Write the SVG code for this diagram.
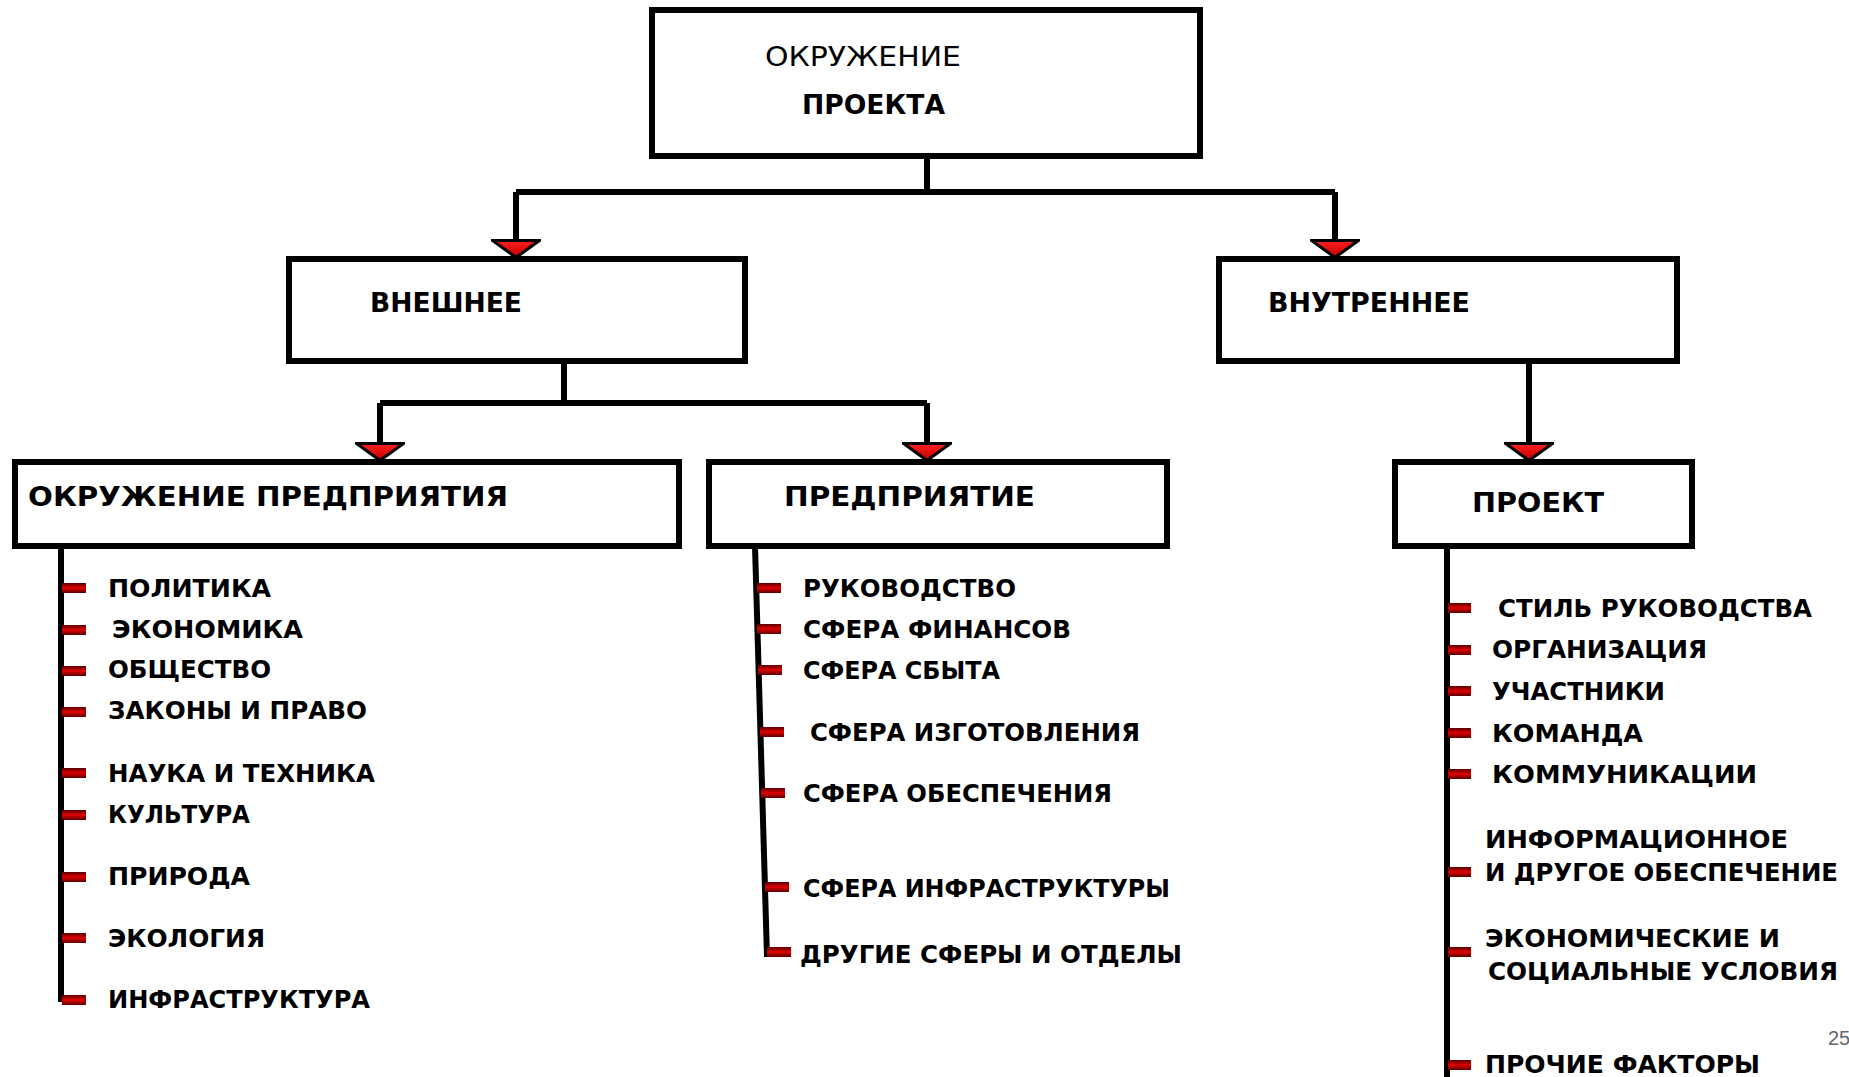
<svg xmlns="http://www.w3.org/2000/svg" width="1849" height="1077" viewBox="0 0 1849 1077">
<defs>
<linearGradient id="mk" x1="0" y1="0" x2="0" y2="1">
<stop offset="0" stop-color="#5a0000"/>
<stop offset="0.5" stop-color="#e00000"/>
<stop offset="1" stop-color="#5a0000"/>
</linearGradient>
<linearGradient id="tri" x1="0" y1="0" x2="1" y2="0">
<stop offset="0" stop-color="#ff2020"/>
<stop offset="1" stop-color="#c00000"/>
</linearGradient>
<marker id="ah" viewBox="0 0 20 50" refX="20" refY="25" markerWidth="20" markerHeight="50" markerUnits="userSpaceOnUse" orient="auto">
<path d="M1.5,1.5 L18.5,25 L1.5,48.5 Z" fill="url(#tri)" stroke="#000" stroke-width="3" stroke-linejoin="miter"/>
</marker>
</defs>
<style>
.box{fill:#fff;stroke:#000;stroke-width:6}
.ln{fill:none;stroke:#000;stroke-width:6}
.t{font-family:"DejaVu Sans","Liberation Sans",sans-serif;font-weight:bold;font-size:24px;fill:#000}
.h{font-family:"DejaVu Sans","Liberation Sans",sans-serif;font-weight:bold;font-size:26px;fill:#000}
.r{font-family:"DejaVu Sans","Liberation Sans",sans-serif;font-weight:normal;font-size:26px;fill:#000}
.m{fill:url(#mk)}
</style>
<rect width="1849" height="1077" fill="#fff"/>

<g id="connectors">
<path class="ln" d="M927,156 V192"/>
<path class="ln" d="M516,192 H1335"/>
<path class="ln" d="M516,192 V259" marker-end="url(#ah)"/>
<path class="ln" d="M1335,192 V259" marker-end="url(#ah)"/>
<path class="ln" d="M564,361 V403"/>
<path class="ln" d="M380,403 H927"/>
<path class="ln" d="M380,403 V462" marker-end="url(#ah)"/>
<path class="ln" d="M927,403 V462" marker-end="url(#ah)"/>
<path class="ln" d="M1529,361 V462" marker-end="url(#ah)"/>
<path class="ln" d="M61,546 V1002"/>
<path class="ln" d="M755,546 L767,957"/>
<path class="ln" d="M1447,546 V1077"/>
</g>

<g id="node-root">
<rect class="box" x="652" y="10" width="548" height="146"/>
<text class="r" x="765" y="66" textLength="196" lengthAdjust="spacingAndGlyphs">ОКРУЖЕНИЕ</text>
<text class="h" x="802" y="114" textLength="143" lengthAdjust="spacingAndGlyphs">ПРОЕКТА</text>
</g>

<g id="node-external">
<rect class="box" x="289" y="259" width="456" height="102"/>
<text class="h" x="370" y="312" textLength="152" lengthAdjust="spacingAndGlyphs">ВНЕШНЕЕ</text>
</g>

<g id="node-internal">
<rect class="box" x="1219" y="259" width="458" height="102"/>
<text class="h" x="1268" y="312" textLength="202" lengthAdjust="spacingAndGlyphs">ВНУТРЕННЕЕ</text>
</g>

<g id="node-env-enterprise">
<rect class="box" x="15" y="462" width="664" height="84"/>
<text class="h" x="28" y="506" textLength="480" lengthAdjust="spacingAndGlyphs">ОКРУЖЕНИЕ ПРЕДПРИЯТИЯ</text>
</g>

<g id="node-enterprise">
<rect class="box" x="709" y="462" width="458" height="84"/>
<text class="h" x="784" y="506" textLength="251" lengthAdjust="spacingAndGlyphs">ПРЕДПРИЯТИЕ</text>
</g>

<g id="node-project">
<rect class="box" x="1395" y="462" width="297" height="84"/>
<text class="h" x="1472" y="512" textLength="132" lengthAdjust="spacingAndGlyphs">ПРОЕКТ</text>
</g>

<g id="list-env-enterprise">
<rect class="m" x="62" y="583" width="24" height="10"/>
<rect class="m" x="62" y="625" width="24" height="10"/>
<rect class="m" x="62" y="666" width="24" height="10"/>
<rect class="m" x="62" y="707" width="24" height="10"/>
<rect class="m" x="62" y="768" width="24" height="10"/>
<rect class="m" x="62" y="810" width="24" height="10"/>
<rect class="m" x="62" y="872" width="24" height="10"/>
<rect class="m" x="62" y="933" width="24" height="10"/>
<rect class="m" x="62" y="995" width="24" height="10"/>
<text class="t" x="108" y="597" textLength="163" lengthAdjust="spacingAndGlyphs">ПОЛИТИКА</text>
<text class="t" x="112" y="638" textLength="191" lengthAdjust="spacingAndGlyphs">ЭКОНОМИКА</text>
<text class="t" x="108" y="678" textLength="163" lengthAdjust="spacingAndGlyphs">ОБЩЕСТВО</text>
<text class="t" x="108" y="719" textLength="259" lengthAdjust="spacingAndGlyphs">ЗАКОНЫ И ПРАВО</text>
<text class="t" x="108" y="782" textLength="267" lengthAdjust="spacingAndGlyphs">НАУКА И ТЕХНИКА</text>
<text class="t" x="108" y="823" textLength="142" lengthAdjust="spacingAndGlyphs">КУЛЬТУРА</text>
<text class="t" x="108" y="885" textLength="142" lengthAdjust="spacingAndGlyphs">ПРИРОДА</text>
<text class="t" x="108" y="947" textLength="157" lengthAdjust="spacingAndGlyphs">ЭКОЛОГИЯ</text>
<text class="t" x="108" y="1008" textLength="262" lengthAdjust="spacingAndGlyphs">ИНФРАСТРУКТУРА</text>
</g>

<g id="list-enterprise">
<rect class="m" x="757" y="583" width="24" height="10"/>
<rect class="m" x="757" y="624" width="24" height="10"/>
<rect class="m" x="758" y="665" width="24" height="10"/>
<rect class="m" x="760" y="727" width="24" height="10"/>
<rect class="m" x="761" y="788" width="24" height="10"/>
<rect class="m" x="765" y="882" width="24" height="10"/>
<rect class="m" x="767" y="947" width="24" height="10"/>
<text class="t" x="803" y="597" textLength="213" lengthAdjust="spacingAndGlyphs">РУКОВОДСТВО</text>
<text class="t" x="803" y="638" textLength="268" lengthAdjust="spacingAndGlyphs">СФЕРА ФИНАНСОВ</text>
<text class="t" x="803" y="679" textLength="197" lengthAdjust="spacingAndGlyphs">СФЕРА СБЫТА</text>
<text class="t" x="810" y="741" textLength="330" lengthAdjust="spacingAndGlyphs">СФЕРА ИЗГОТОВЛЕНИЯ</text>
<text class="t" x="803" y="802" textLength="309" lengthAdjust="spacingAndGlyphs">СФЕРА ОБЕСПЕЧЕНИЯ</text>
<text class="t" x="803" y="897" textLength="367" lengthAdjust="spacingAndGlyphs">СФЕРА ИНФРАСТРУКТУРЫ</text>
<text class="t" x="800" y="963" textLength="382" lengthAdjust="spacingAndGlyphs">ДРУГИЕ СФЕРЫ И ОТДЕЛЫ</text>
</g>

<g id="list-project">
<rect class="m" x="1448" y="603" width="23" height="10"/>
<rect class="m" x="1448" y="645" width="23" height="10"/>
<rect class="m" x="1448" y="686" width="23" height="10"/>
<rect class="m" x="1448" y="728" width="23" height="10"/>
<rect class="m" x="1448" y="769" width="23" height="10"/>
<rect class="m" x="1448" y="867" width="23" height="10"/>
<rect class="m" x="1448" y="947" width="23" height="10"/>
<rect class="m" x="1448" y="1060" width="23" height="10"/>
<text class="t" x="1498" y="617" textLength="314" lengthAdjust="spacingAndGlyphs">СТИЛЬ РУКОВОДСТВА</text>
<text class="t" x="1492" y="658" textLength="215" lengthAdjust="spacingAndGlyphs">ОРГАНИЗАЦИЯ</text>
<text class="t" x="1492" y="700" textLength="173" lengthAdjust="spacingAndGlyphs">УЧАСТНИКИ</text>
<text class="t" x="1492" y="742" textLength="151" lengthAdjust="spacingAndGlyphs">КОМАНДА</text>
<text class="t" x="1492" y="783" textLength="265" lengthAdjust="spacingAndGlyphs">КОММУНИКАЦИИ</text>
<text class="t" x="1485" y="848" textLength="303" lengthAdjust="spacingAndGlyphs">ИНФОРМАЦИОННОЕ</text>
<text class="t" x="1485" y="881" textLength="353" lengthAdjust="spacingAndGlyphs">И ДРУГОЕ ОБЕСПЕЧЕНИЕ</text>
<text class="t" x="1485" y="947" textLength="295" lengthAdjust="spacingAndGlyphs">ЭКОНОМИЧЕСКИЕ И</text>
<text class="t" x="1488" y="980" textLength="350" lengthAdjust="spacingAndGlyphs">СОЦИАЛЬНЫЕ УСЛОВИЯ</text>
<text class="t" x="1485" y="1073" textLength="275" lengthAdjust="spacingAndGlyphs">ПРОЧИЕ ФАКТОРЫ</text>
</g>

<text x="1828" y="1045" font-family="Liberation Sans, sans-serif" font-size="20" fill="#666">25</text>
</svg>
